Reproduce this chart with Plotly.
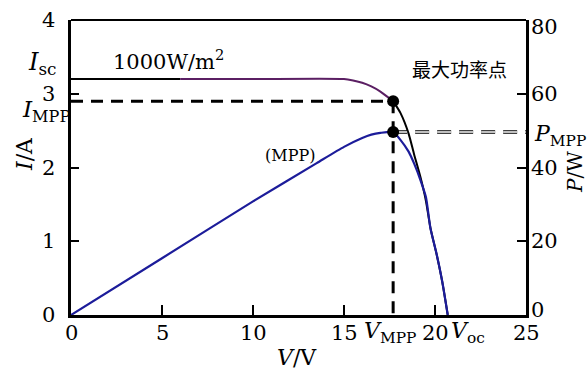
import plotly.graph_objects as go

# ---------------- data ----------------
V_I = [0, 6, 10, 15, 15.5, 16, 16.5, 17, 17.7, 18.1, 18.55, 18.85, 19.2, 19.5, 19.75, 20.1, 20.4, 20.7]
I_vals = [3.2, 3.2, 3.2, 3.2, 3.18, 3.15, 3.1, 3.03, 2.9, 2.74, 2.46, 2.18, 1.87, 1.55, 1.18, 0.81, 0.45, 0]

V_P = [0, 5, 10, 13.5, 15, 16, 16.5, 17, 17.7, 18.1, 18.55, 18.85, 19.2, 19.5, 19.75, 20.1, 20.4, 20.7]
P_vals = [0, 15.4, 30.8, 41.2, 45.6, 48.0, 48.9, 49.4, 49.6, 47.5, 44.3, 41.1, 36.6, 32.0, 23.5, 16.3, 9.0, 0]

V_MPP = 17.7
I_MPP = 2.9
P_MPP = 49.6
V_MAX = 25

x_ticks = [0, 5, 10, 15, 20, 25]
i_ticks = [0, 1, 2, 3, 4]
p_ticks = [0, 20, 40, 60, 80]

PURPLE_FROM = 6
PURPLE_TO = 17.7

# ---------------- figure ----------------
W, H = 587, 369
L, R, T, B = 71, 61, 20, 54
PW, PH = W - L - R, H - T - B

def px(x, y):
    return (x - L) / PW, (H - B - y) / PH

SERIF = "DejaVu Serif"
CJK = "Noto Sans CJK SC"
BLACK = "#000000"
PURPLE_C = "#5b1f63"
BLUE_C = "#1c1c9a"

fig = go.Figure()

seg_a = [(v, i) for v, i in zip(V_I, I_vals) if v <= PURPLE_FROM]
seg_b = [(v, i) for v, i in zip(V_I, I_vals) if PURPLE_FROM <= v <= PURPLE_TO]
seg_c = [(v, i) for v, i in zip(V_I, I_vals) if v >= PURPLE_TO]
for seg, col in [(seg_a, BLACK), (seg_b, PURPLE_C), (seg_c, BLACK)]:
    fig.add_trace(go.Scatter(
        x=[s[0] for s in seg], y=[s[1] for s in seg], mode="lines",
        line=dict(color=col, width=2, shape="spline", smoothing=0.6),
        showlegend=False, hoverinfo="skip"))

fig.add_trace(go.Scatter(
    x=V_P, y=P_vals, mode="lines", yaxis="y2",
    line=dict(color=BLUE_C, width=2.2, shape="spline", smoothing=0.6),
    showlegend=False, hoverinfo="skip"))

fig.add_trace(go.Scatter(
    x=[0, V_MPP], y=[I_MPP, I_MPP], mode="lines",
    line=dict(color=BLACK, width=3, dash="12px,8px"),
    showlegend=False, hoverinfo="skip"))
fig.add_trace(go.Scatter(
    x=[V_MPP, V_MPP], y=[I_MPP, 0], mode="lines",
    line=dict(color=BLACK, width=3, dash="12px,8px"),
    showlegend=False, hoverinfo="skip"))
fig.add_trace(go.Scatter(
    x=[V_MPP, V_MAX], y=[P_MPP, P_MPP], mode="lines", yaxis="y2",
    line=dict(color=BLACK, width=3.5, dash="14px,8px"),
    showlegend=False, hoverinfo="skip"))
fig.add_trace(go.Scatter(
    x=[V_MPP, V_MAX], y=[P_MPP, P_MPP], mode="lines", yaxis="y2",
    line=dict(color="white", width=1.5, dash="14px,8px"),
    showlegend=False, hoverinfo="skip"))

fig.add_trace(go.Scatter(
    x=[V_MPP], y=[I_MPP], mode="markers",
    marker=dict(color=BLACK, size=12), showlegend=False, hoverinfo="skip"))
fig.add_trace(go.Scatter(
    x=[V_MPP], y=[P_MPP], mode="markers", yaxis="y2",
    marker=dict(color=BLACK, size=12), showlegend=False, hoverinfo="skip"))

axis_common = dict(ticks="inside", tickwidth=1.5, tickcolor=BLACK, showline=True,
                   linewidth=3, linecolor=BLACK, showgrid=False, zeroline=False,
                   showticklabels=False)

fig.update_layout(
    width=W, height=H,
    margin=dict(l=L, r=R, t=T, b=B),
    paper_bgcolor="white", plot_bgcolor="white",
    font=dict(family=SERIF, color=BLACK),
    xaxis=dict(range=[0, V_MAX], tickvals=x_ticks, ticklen=10, **axis_common),
    yaxis=dict(range=[0, 4], tickvals=i_ticks, ticklen=8, **axis_common),
    yaxis2=dict(range=[0, 80], tickvals=p_ticks, ticklen=9,
                overlaying="y", side="right", **axis_common),
    shapes=[dict(type="line", xref="paper", yref="paper", x0=0, x1=1, y0=1, y1=1,
                 line=dict(color=BLACK, width=2))],
)

TICK_SIZE = 21
# tick labels (text placed at the axis values)
for v in x_ticks:
    fig.add_annotation(text=str(v), x=v, xref="x", y=px(0, 333)[1], yref="paper",
                       showarrow=False, xanchor="center", yanchor="middle",
                       font=dict(family=SERIF, size=TICK_SIZE, color=BLACK))
for v in i_ticks:
    fig.add_annotation(text=str(v), x=px(57, 0)[0], xref="paper", y=v, yref="y",
                       showarrow=False, xanchor="right", yanchor="middle",
                       font=dict(family=SERIF, size=TICK_SIZE, color=BLACK))
for v in p_ticks:
    shift = 5 if v == p_ticks[0] else (-7 if v == p_ticks[-1] else 0)
    fig.add_annotation(text=str(v), x=px(529, 0)[0], xref="paper", y=v, yref="y2",
                       showarrow=False, xanchor="left", yanchor="middle", yshift=shift,
                       font=dict(family=SERIF, size=TICK_SIZE, color=BLACK))

def ann(text, x, y, size, family=SERIF, angle=0, xanchor="center"):
    ax, ay = px(x, y)
    fig.add_annotation(text=text, x=ax, y=ay, xref="paper", yref="paper",
                       showarrow=False, xanchor=xanchor, yanchor="middle",
                       textangle=angle,
                       font=dict(family=family, size=size, color=BLACK))

ann("<i>I</i><sub>sc</sub>", 42, 64, 24)
ann("<i>I</i><sub>MPP</sub>", 46, 111, 23)
ann("1000W/m<sup>2</sup>", 168, 60, 21)
ann("最大功率点", 459, 68, 19, family=CJK)
ann("(MPP)", 290, 156, 16)
ann("<i>P</i><sub>MPP</sub>", 560, 135, 22)
ann("<i>V</i><sub>MPP</sub>", 390, 332, 22)
ann("<i>V</i><sub>oc</sub>", 468, 332, 22)
ann("<i>I</i>/A", 24, 154, 22, angle=-90)
ann("<i>P</i>/W", 575, 172, 20, angle=-90)
ann("<i>V</i>/V", 297, 357, 22)

fig.write_html("out.html")
